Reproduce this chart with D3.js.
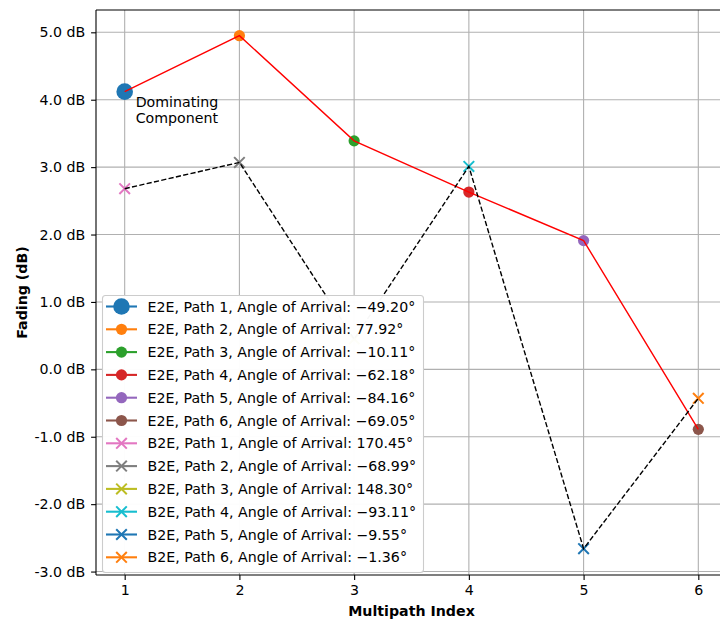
<!DOCTYPE html>
<html>
<head>
<meta charset="utf-8">
<script src="https://cdn.jsdelivr.net/npm/d3@7"></script>
<style>
  html, body { margin: 0; padding: 0; background: #ffffff; }
  svg { display: block; font-family: "DejaVu Sans", sans-serif; }
</style>
</head>
<body>
<svg id="chart" width="720" height="623"></svg>
<script>
// Multipath index on the x axis
const pathIndex = [1, 2, 3, 4, 5, 6];

// Fading per path (dB)
const e2eFading = [4.12, 4.95, 3.39, 2.63, 1.91, -0.89];
const b2eFading = [2.68, 3.07, 0.45, 3.01, -2.66, -0.43];

// Angle of arrival per path (degrees)
const e2eAngles = [-49.20, 77.92, -10.11, -62.18, -84.16, -69.05];
const b2eAngles = [170.45, -68.99, 148.30, -93.11, -9.55, -1.36];

// Marker colours per path (tab10 cycle)
const e2eColors = ["#1f77b4", "#ff7f0e", "#2ca02c", "#d62728", "#9467bd", "#8c564b"];
const b2eColors = ["#e377c2", "#7f7f7f", "#bcbd22", "#17becf", "#1f77b4", "#ff7f0e"];

// Axis ticks
const xTicks = [1, 2, 3, 4, 5, 6];
const yTicks = [-3, -2, -1, 0, 1, 2, 3, 4, 5];

const svg = d3.select("#chart");
const FS = 14.2;

const plot = { left: 96, top: 10, right: 727, bottom: 575 };

const x = d3.scaleLinear().domain([0.75, 6.25]).range([plot.left, plot.right]);
const y = d3.scaleLinear().domain([-3.051, 5.331]).range([plot.bottom, plot.top]);

// clip to the plotting area
svg.append("defs").append("clipPath").attr("id", "clip")
  .append("rect").attr("x", plot.left).attr("y", plot.top)
  .attr("width", plot.right - plot.left).attr("height", plot.bottom - plot.top);

// grid
const grid = svg.append("g").attr("clip-path", "url(#clip)");
grid.selectAll("line.gx").data(xTicks).join("line")
  .attr("x1", d => x(d)).attr("x2", d => x(d))
  .attr("y1", plot.top).attr("y2", plot.bottom)
  .attr("stroke", "#b0b0b0").attr("stroke-width", 1.1);
grid.selectAll("line.gy").data(yTicks).join("line")
  .attr("x1", plot.left).attr("x2", plot.right)
  .attr("y1", d => y(d)).attr("y2", d => y(d))
  .attr("stroke", "#b0b0b0").attr("stroke-width", 1.1);

// axes
const xAxis = d3.axisBottom(x).tickValues(xTicks).tickFormat(d3.format("d"))
  .tickSize(4.9).tickPadding(4.6);
const yAxis = d3.axisLeft(y).tickValues(yTicks).tickFormat(d => d.toFixed(1) + " dB")
  .tickSize(4.9).tickPadding(5.8);

const gx = svg.append("g").attr("transform", `translate(0,${plot.bottom})`).call(xAxis);
const gy = svg.append("g").attr("transform", `translate(${plot.left},0)`).call(yAxis);
[gx, gy].forEach(g => {
  g.select(".domain").remove();
  g.selectAll(".tick line").attr("stroke", "#000").attr("stroke-width", 1.1);
  g.selectAll(".tick text").attr("fill", "#000")
    .style("font-family", "DejaVu Sans").style("font-size", FS + "px");
});

// spines
const spines = svg.append("g").attr("stroke", "#000").attr("stroke-width", 1.1).attr("fill", "none");
spines.append("line").attr("x1", plot.left).attr("x2", plot.left).attr("y1", plot.top).attr("y2", plot.bottom);
spines.append("line").attr("x1", plot.left).attr("x2", plot.right).attr("y1", plot.top).attr("y2", plot.top);
spines.append("line").attr("x1", plot.left).attr("x2", plot.right).attr("y1", plot.bottom).attr("y2", plot.bottom);
spines.append("line").attr("x1", plot.right).attr("x2", plot.right).attr("y1", plot.top).attr("y2", plot.bottom);

// axis titles
svg.append("text")
  .attr("x", (plot.left + plot.right) / 2).attr("y", 616)
  .attr("text-anchor", "middle").attr("font-weight", "bold")
  .style("font-size", FS + "px").text("Multipath Index");
svg.append("text")
  .attr("transform", `translate(27,${(plot.top + plot.bottom) / 2}) rotate(-90)`)
  .attr("text-anchor", "middle").attr("font-weight", "bold")
  .style("font-size", FS + "px").text("Fading (dB)");

const marks = svg.append("g").attr("clip-path", "url(#clip)");

function crossPath(s) {
  return `M${-s},${-s}L${s},${s}M${-s},${s}L${s},${-s}`;
}

// E2E markers (first path emphasised)
marks.selectAll("circle.e2e").data(pathIndex).join("circle")
  .attr("cx", (d, i) => x(d)).attr("cy", (d, i) => y(e2eFading[i]))
  .attr("r", (d, i) => i === 0 ? 8.3 : 5.6)
  .attr("fill", (d, i) => e2eColors[i]);

// B2E markers
marks.selectAll("path.b2e").data(pathIndex).join("path")
  .attr("transform", (d, i) => `translate(${x(d)},${y(b2eFading[i])})`)
  .attr("d", crossPath(5.3))
  .attr("stroke", (d, i) => b2eColors[i]).attr("stroke-width", 2.0).attr("fill", "none");

// connecting lines
const line = d3.line().x(d => x(d[0])).y(d => y(d[1]));
marks.append("path")
  .datum(pathIndex.map((p, i) => [p, e2eFading[i]]))
  .attr("d", line).attr("fill", "none").attr("stroke", "#ff0000").attr("stroke-width", 1.4);
marks.append("path")
  .datum(pathIndex.map((p, i) => [p, b2eFading[i]]))
  .attr("d", line).attr("fill", "none").attr("stroke", "#000")
  .attr("stroke-width", 1.4).attr("stroke-dasharray", "5.2,2.3");

// annotation of the strongest component
const ann = svg.append("text").style("font-size", FS + "px").attr("fill", "#000");
ann.append("tspan").attr("x", x(1) + 11).attr("y", y(e2eFading[0]) + 15).text("Dominating");
ann.append("tspan").attr("x", x(1) + 11).attr("y", y(e2eFading[0]) + 31).text("Component");

// legend
const fmtAngle = v => (v < 0 ? "\u2212" : "") + Math.abs(v).toFixed(2) + "\u00b0";
const legendItems = [];
pathIndex.forEach((p, i) => legendItems.push({
  label: `E2E, Path ${p}, Angle of Arrival: ${fmtAngle(e2eAngles[i])}`,
  color: e2eColors[i], kind: "circle", big: i === 0
}));
pathIndex.forEach((p, i) => legendItems.push({
  label: `B2E, Path ${p}, Angle of Arrival: ${fmtAngle(b2eAngles[i])}`,
  color: b2eColors[i], kind: "cross", big: false
}));

const lg = svg.append("g");
const lx = 102, ly = 295, lw = 321, lh = 277, rowH = 22.8, row0 = 306.5;
lg.append("rect").attr("x", lx + 0.5).attr("y", ly + 0.5).attr("width", lw).attr("height", lh)
  .attr("rx", 3).attr("fill", "#ffffff").attr("fill-opacity", 0.97)
  .attr("stroke", "#cccccc").attr("stroke-width", 1.1);

const rows = lg.selectAll("g.row").data(legendItems).join("g")
  .attr("transform", (d, i) => `translate(0,${row0 + i * rowH})`);
rows.append("line").attr("x1", 106).attr("x2", 137).attr("y1", 0).attr("y2", 0)
  .attr("stroke", d => d.color).attr("stroke-width", 2.1);
rows.filter(d => d.kind === "circle").append("circle")
  .attr("cx", 121.5).attr("cy", 0).attr("r", d => d.big ? 8.3 : 5.6)
  .attr("fill", d => d.color);
rows.filter(d => d.kind === "cross").append("path")
  .attr("transform", "translate(121.5,0)").attr("d", crossPath(5.3))
  .attr("stroke", d => d.color).attr("stroke-width", 2.0).attr("fill", "none");
rows.append("text").attr("x", 147.5).attr("y", 0).attr("dy", "0.36em")
  .style("font-size", FS + "px").attr("fill", "#000").text(d => d.label);
</script>
</body>
</html>
